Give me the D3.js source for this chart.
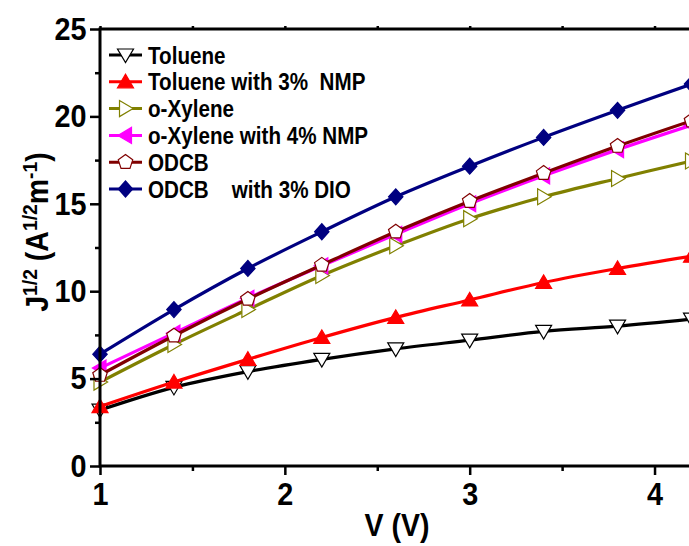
<!DOCTYPE html>
<html>
<head>
<meta charset="utf-8">
<script src="https://cdn.jsdelivr.net/npm/d3@7"></script>
<style>
  body { margin: 0; background: #fff; overflow: hidden; }
  svg { display: block; }
  text { font-family: "Liberation Sans", Arial, sans-serif; font-weight: bold; fill: #000; }
</style>
</head>
<body>
<script>
// Data
var voltage = [1.0, 1.4, 1.8, 2.2, 2.6, 3.0, 3.4, 3.8, 4.2];

var toluene       = [3.2, 4.5, 5.4, 6.1, 6.7, 7.2, 7.7, 8.0, 8.4];
var tolueneNMP    = [3.4, 4.8, 6.1, 7.35, 8.5, 9.5, 10.5, 11.3, 12.0];
var oXylene       = [4.8, 6.95, 8.95, 10.9, 12.6, 14.15, 15.4, 16.45, 17.45];
var oXyleneNMP    = [5.6, 7.6, 9.6, 11.45, 13.25, 15.0, 16.6, 18.1, 19.5];
var odcb          = [5.2, 7.45, 9.55, 11.5, 13.4, 15.15, 16.75, 18.3, 19.75];
var odcbDIO       = [6.4, 8.95, 11.3, 13.4, 15.4, 17.15, 18.8, 20.35, 21.85];

var seriesNames = ['Toluene', 'Toluene with 3%  NMP', 'o-Xylene',
                   'o-Xylene with 4% NMP', 'ODCB', 'ODCB    with 3% DIO'];
var seriesValues = [toluene, tolueneNMP, oXylene, oXyleneNMP, odcb, odcbDIO];

var xTicks = [1, 2, 3, 4];
var yTicks = [0, 5, 10, 15, 20, 25];

// Style configuration
var colors  = ['#000000', '#ff0000', '#808000', '#ff00ff', '#800000', '#000080'];
var fills   = ['#ffffff', '#ff0000', '#ffffff', '#ff00ff', '#ffffff', '#000080'];
var shapes  = ['down', 'up', 'right', 'left', 'pentagon', 'diamond'];

var width = 689, height = 546;

var x = d3.scaleLinear().domain([1, 4.2]).range([100, 691.5]);
var y = d3.scaleLinear().domain([0, 25]).range([466, 29]);

var svg = d3.select('body').append('svg')
    .attr('width', width)
    .attr('height', height);

// Marker path for a given shape, centred on 0,0
function markerPath(shape) {
    var r = 8;
    var pts;
    if (shape === 'down') pts = [[-r, -r * 0.75], [r, -r * 0.75], [0, r * 0.95]];
    else if (shape === 'up') pts = [[-r, r * 0.75], [r, r * 0.75], [0, -r * 0.95]];
    else if (shape === 'right') pts = [[-r * 0.75, -r], [-r * 0.75, r], [r * 0.95, 0]];
    else if (shape === 'left') pts = [[r * 0.75, -r], [r * 0.75, r], [-r * 0.95, 0]];
    else if (shape === 'diamond') pts = [[0, -r], [r * 0.9, 0], [0, r], [-r * 0.9, 0]];
    else {
        pts = d3.range(5).map(function(i) {
            var a = -Math.PI / 2 + i * 2 * Math.PI / 5;
            return [r * 0.95 * Math.cos(a), r * 0.95 * Math.sin(a)];
        });
    }
    return 'M' + pts.map(function(p) { return p.join(','); }).join('L') + 'Z';
}

var line = d3.line()
    .x(function(d) { return x(d[0]); })
    .y(function(d) { return y(d[1]); })
    .curve(d3.curveCatmullRom);

var plot = svg.append('g');

seriesValues.forEach(function(vals, i) {
    var pts = vals.map(function(v, j) { return [voltage[j], v]; });
    var g = plot.append('g');
    g.append('path')
        .datum(pts)
        .attr('d', line)
        .attr('fill', 'none')
        .attr('stroke', colors[i])
        .attr('stroke-width', 3.2);
    g.selectAll('.pt')
        .data(pts)
        .enter()
        .append('path')
        .attr('d', markerPath(shapes[i]))
        .attr('transform', function(d) { return 'translate(' + x(d[0]) + ',' + y(d[1]) + ')'; })
        .attr('fill', fills[i])
        .attr('stroke', colors[i])
        .attr('stroke-width', 1.2);
});

// Axes
var xMinor = [1.5, 2.5, 3.5];
var yMinor = [2.5, 7.5, 12.5, 17.5, 22.5];

function styleAxis(g) {
    g.select('.domain').remove();
    g.selectAll('line').attr('stroke', '#000').attr('stroke-width', 2.5);
}

// Tick labels are a little narrower and taller than plain Arial bold
function styleLabels(g) {
    g.selectAll('text')
        .style('font-size', '32px')
        .style('font-family', '"Liberation Sans", Arial, sans-serif')
        .style('font-weight', 'bold')
        .attr('transform', 'scale(0.9,1)');
}

// Bottom
svg.append('g')
    .attr('transform', 'translate(0,466)')
    .call(d3.axisBottom(x).tickValues(xTicks).tickSize(9).tickPadding(7).tickFormat(d3.format('d')))
    .call(styleAxis)
    .call(styleLabels);
svg.append('g')
    .attr('transform', 'translate(0,466)')
    .call(d3.axisBottom(x).tickValues(xMinor).tickSize(5).tickFormat(''))
    .call(styleAxis);

// Left
svg.append('g')
    .attr('transform', 'translate(100,0)')
    .call(d3.axisLeft(y).tickValues(yTicks).tickSize(10).tickPadding(5).tickFormat(d3.format('d')))
    .call(styleAxis)
    .call(styleLabels);
svg.append('g')
    .attr('transform', 'translate(100,0)')
    .call(d3.axisLeft(y).tickValues(yMinor).tickSize(5).tickFormat(''))
    .call(styleAxis);

// Top
svg.append('g')
    .attr('transform', 'translate(0,29)')
    .call(d3.axisTop(x).tickValues(xTicks.concat(xMinor)).tickSize(3).tickFormat(''))
    .call(styleAxis);

// Frame
svg.append('rect')
    .attr('x', x(1)).attr('y', y(25))
    .attr('width', x(4.2) - x(1)).attr('height', y(0) - y(25))
    .attr('fill', 'none').attr('stroke', '#000').attr('stroke-width', 3);

// Axis titles
svg.append('text')
    .attr('transform', 'translate(397,536) scale(0.92,1)')
    .attr('text-anchor', 'middle')
    .style('font-size', '31px')
    .text('V (V)');

var yt = svg.append('text')
    .attr('transform', 'translate(48,232) rotate(-90) scale(0.92,1)')
    .attr('text-anchor', 'middle')
    .style('font-size', '31px');
yt.append('tspan').text('J');
yt.append('tspan').attr('dy', -11).style('font-size', '21px').text('1/2');
yt.append('tspan').attr('dy', 11).text(' (A');
yt.append('tspan').attr('dy', -11).style('font-size', '21px').text('1/2');
yt.append('tspan').attr('dy', 11).text('m');
yt.append('tspan').attr('dy', -11).style('font-size', '21px').text('-1');
yt.append('tspan').attr('dy', 11).text(')');

// Legend
var legend = svg.append('g');
seriesNames.forEach(function(name, i) {
    var cy = 55 + i * 26.8;
    legend.append('line')
        .attr('x1', 109).attr('x2', 142)
        .attr('y1', cy).attr('y2', cy)
        .attr('stroke', colors[i]).attr('stroke-width', 3);
    legend.append('path')
        .attr('d', markerPath(shapes[i]))
        .attr('transform', 'translate(125.5,' + cy + ')')
        .attr('fill', fills[i])
        .attr('stroke', colors[i])
        .attr('stroke-width', 1.2);
    legend.append('text')
        .attr('transform', 'translate(148,' + (cy + 8.5) + ') scale(0.86,1)')
        .attr('xml:space', 'preserve')
        .style('white-space', 'pre')
        .style('font-size', '24px')
        .text(name);
});
</script>
</body>
</html>
